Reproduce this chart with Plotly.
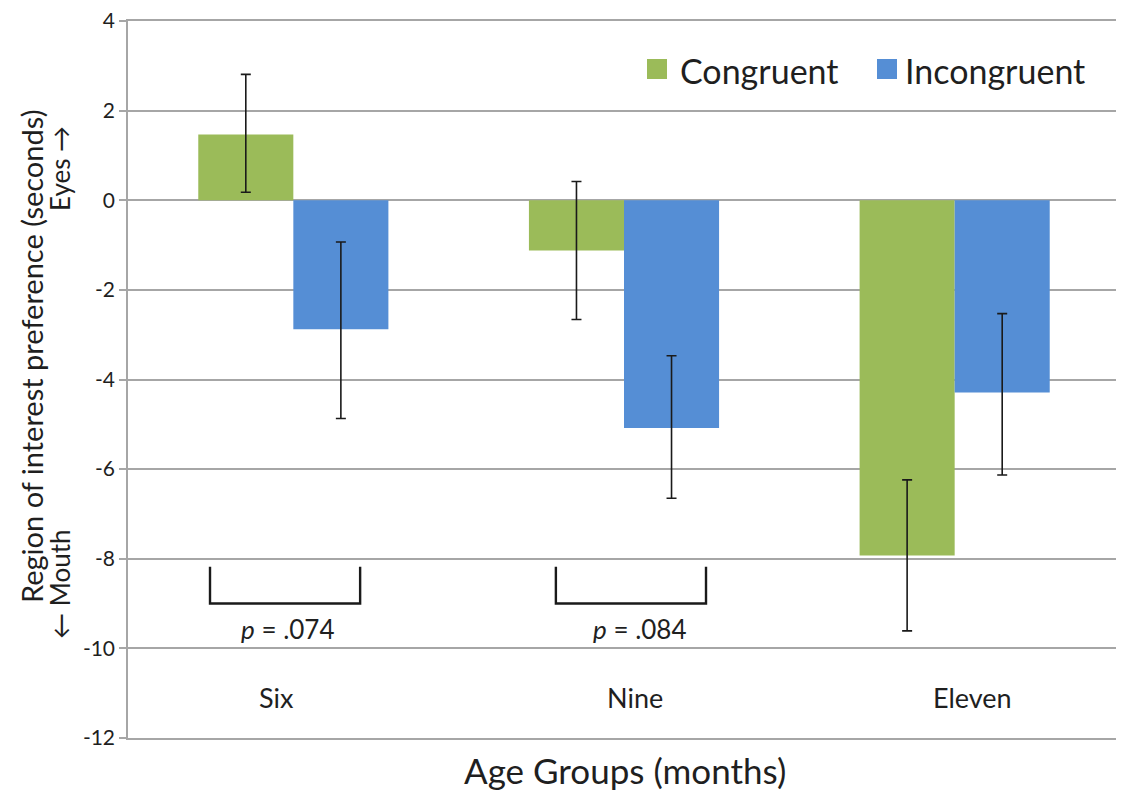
import plotly.graph_objects as go

# ---- data ----
groups = ["Six", "Nine", "Eleven"]
congruent = [1.47, -1.12, -7.93]
congruent_err_plus = [1.34, 1.54, 1.69]
congruent_err_minus = [1.29, 1.54, 1.68]
incongruent = [-2.88, -5.08, -4.29]
incongruent_err_plus = [1.95, 1.61, 1.76]
incongruent_err_minus = [1.99, 1.57, 1.84]
y_ticks = [4, 2, 0, -2, -4, -6, -8, -10, -12]
p_labels = [".074", ".084"]
series_names = ["Congruent", "Incongruent"]

GREEN = "#9BBB59"
BLUE = "#558ED5"
TEXT = "#1f1f1f"
GRID = "#a6a6a6"
FONT = "Lato, 'Open Sans', sans-serif"

xpos = list(range(len(groups)))

fig = go.Figure()
fig.add_trace(go.Bar(
    x=xpos, y=congruent, name=series_names[0], marker_color=GREEN,
    marker_line_width=0,
    error_y=dict(type="data", symmetric=False, array=congruent_err_plus,
                 arrayminus=congruent_err_minus, color="#1a1a1a",
                 thickness=1.6, width=5),
))
fig.add_trace(go.Bar(
    x=xpos, y=incongruent, name=series_names[1], marker_color=BLUE,
    marker_line_width=0,
    error_y=dict(type="data", symmetric=False, array=incongruent_err_plus,
                 arrayminus=incongruent_err_minus, color="#1a1a1a",
                 thickness=1.6, width=5),
))

# page offset (body margin) is 8px
OFF = 8
W, H = 1124, 790
L, T = 128 - OFF, 21 - OFF
plot_right_page, plot_bottom_page = 1120, 738
R = W - (plot_right_page - OFF)
B = H - (plot_bottom_page - OFF)
PW, PH = W - L - R, H - T - B


def px_x(px):
    return (px - OFF - L) / PW


def px_y(py):
    return (H - B - (py - OFF)) / PH


annotations = []
# category labels placed inside plot, like the original
cat_offsets = [-0.052, 0.033, 0.055]
for i, g in enumerate(groups):
    annotations.append(dict(x=i + cat_offsets[i], y=-11.09, xref="x", yref="y",
                            xanchor="center", yanchor="middle",
                            text=g, showarrow=False,
                            font=dict(size=27, color=TEXT, family=FONT)))
# p-values
p_x = [-0.016, 1.048]
for i, p in enumerate(p_labels):
    annotations.append(dict(x=p_x[i], y=-9.56, xref="x", yref="y",
                            xanchor="center", yanchor="middle",
                            text="<i>p</i> = " + p, showarrow=False,
                            font=dict(size=26, color=TEXT, family=FONT)))

# legend (custom, large)
legend_items = [(647, 667, 678, GREEN), (877, 897, 903, BLUE)]
shapes = []
for (sx0, sx1, tx, col), name in zip(legend_items, series_names):
    shapes.append(dict(type="rect", xref="paper", yref="paper",
                       x0=px_x(sx0), x1=px_x(sx1), y0=px_y(79), y1=px_y(59),
                       fillcolor=col, line_width=0))
    annotations.append(dict(x=px_x(tx), y=px_y(71), xref="paper", yref="paper",
                            xanchor="left", yanchor="middle", text=name,
                            showarrow=False,
                            font=dict(size=34, color=TEXT, family=FONT)))

# brackets
brackets = [(-0.252, 0.202), (0.794, 1.248)]
for bx0, bx1 in brackets:
    ytop, ybot = -8.18, -9.0
    shapes.append(dict(type="path", xref="x", yref="y",
                       path=f"M {bx0},{ytop} L {bx0},{ybot} L {bx1},{ybot} L {bx1},{ytop}",
                       line=dict(color="#1a1a1a", width=2.4)))

# y axis title (two lines, rotated)
annotations.append(dict(x=px_x(31), y=px_y(357), xref="paper", yref="paper",
                        xanchor="center", yanchor="middle",
                        text="Region of interest preference (seconds)",
                        textangle=-90, showarrow=False,
                        font=dict(size=29, color=TEXT, family=FONT)))
annotations.append(dict(x=px_x(60), y=px_y(169), xref="paper", yref="paper",
                        xanchor="center", yanchor="middle",
                        text="Eyes \u2192", textangle=-90, showarrow=False,
                        font=dict(size=26, color=TEXT, family=FONT)))
annotations.append(dict(x=px_x(60), y=px_y(585), xref="paper", yref="paper",
                        xanchor="center", yanchor="middle",
                        text="\u2190 Mouth", textangle=-90, showarrow=False,
                        font=dict(size=26, color=TEXT, family=FONT)))
# x axis title
annotations.append(dict(x=px_x(625), y=px_y(770), xref="paper", yref="paper",
                        xanchor="center", yanchor="middle",
                        text="Age Groups (months)", showarrow=False,
                        font=dict(size=35, color=TEXT, family=FONT)))

fig.update_layout(
    width=W, height=H,
    margin=dict(l=L, r=R, t=T, b=B, pad=0, autoexpand=False),
    paper_bgcolor="white", plot_bgcolor="white",
    barmode="group", bargap=0.425, bargroupgap=0,
    showlegend=False,
    font=dict(family=FONT, color=TEXT),
    annotations=annotations, shapes=shapes,
    xaxis=dict(range=[-0.5, 2.5], showticklabels=False, showgrid=False,
               zeroline=False, showline=True, mirror=True, linecolor=GRID,
               linewidth=1.5, ticks="", automargin=False),
    yaxis=dict(range=[-12, 4], tickvals=y_ticks,
               ticktext=[str(v) for v in y_ticks],
               showgrid=True, gridcolor=GRID, gridwidth=1.5,
               zeroline=False, showline=True, linecolor=GRID, linewidth=1.5,
               ticks="outside", ticklen=7, tickcolor=GRID, tickwidth=1.5,
               ticklabeloverflow="allow", automargin=False,
               tickfont=dict(size=21, color=TEXT, family=FONT)),
)

fig.write_html("out.html")
